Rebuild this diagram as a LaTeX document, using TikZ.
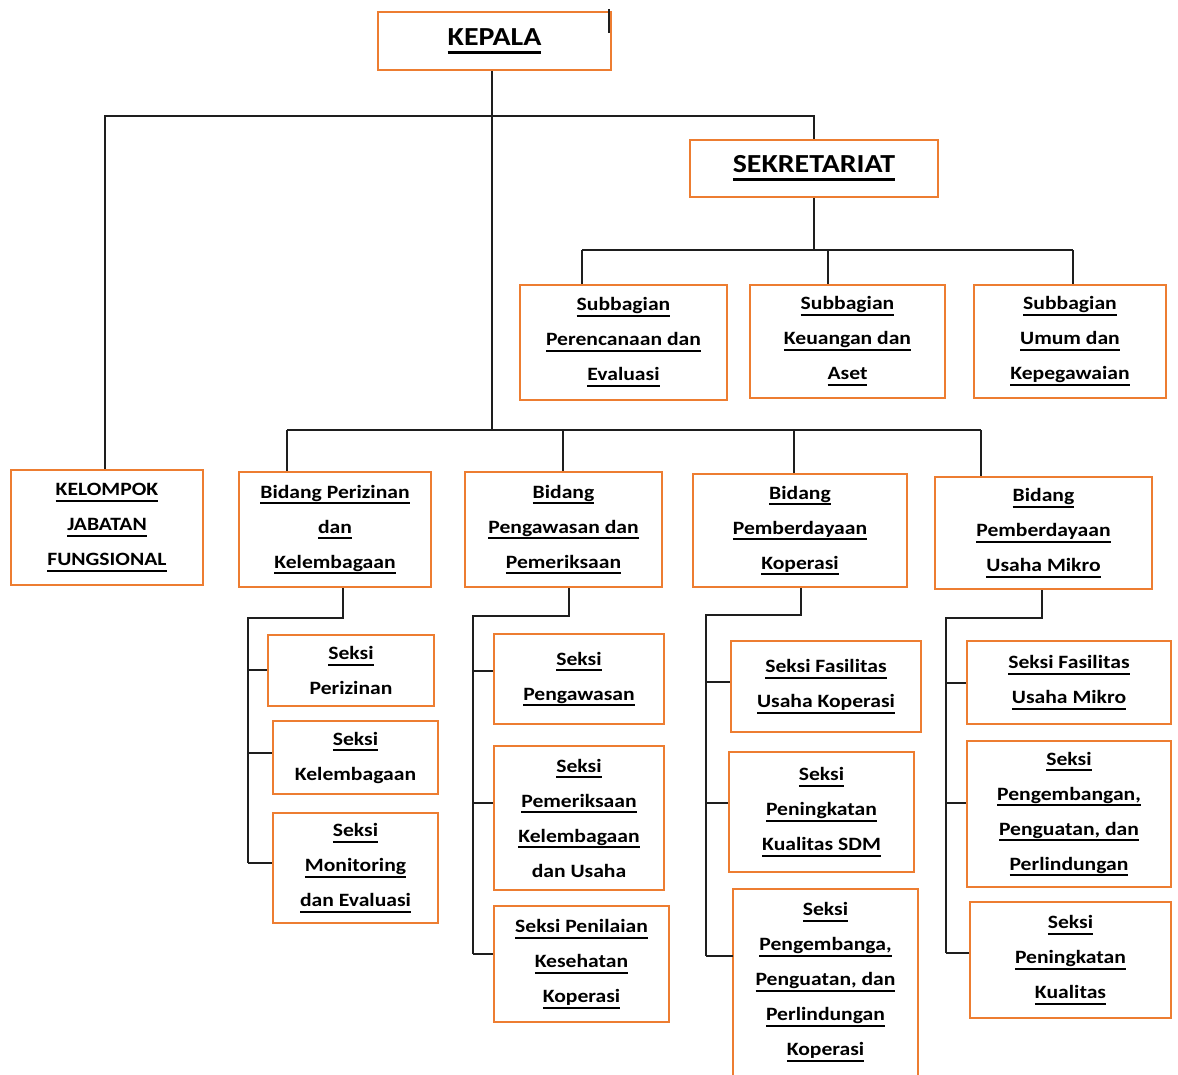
\documentclass[tikz,border=0pt]{standalone}
\usepackage{fontspec}
\setmainfont{Carlito}[FakeStretch=1.15]
\definecolor{boxorange}{HTML}{ED7D31}
\definecolor{linegray}{HTML}{1E1E1E}
\newcommand\ul[1]{\setbox0\hbox{#1}\leavevmode\rlap{\rule[-0.33em]{\wd0}{0.11em}}\box0}
\tikzset{
  box/.style={draw=boxorange, line width=2pt, align=center, inner sep=0pt,
    font=\bfseries\fontsize{18.8pt}{35pt}\selectfont},
  bigbox/.style={box, font=\bfseries\fontsize{26pt}{30pt}\selectfont},
  conn/.style={draw=linegray, line width=2pt},
}
\newcommand\bx[6]{\node[box,minimum width=#4pt,minimum height=#5pt] (#1) at (#2,#3) {#6};}
\begin{document}
\begin{tikzpicture}[x=1pt,y=-1pt]
\useasboundingbox (0,0) rectangle (1178,1074);
\clip (0,0) rectangle (1178,1074);
% top level
\node[bigbox,minimum width=233pt,minimum height=58pt] (kepala) at (494.5,41) {\ul{KEPALA}};
\node[bigbox,minimum width=248pt,minimum height=57pt] (sek) at (814,168.5) {\ul{SEKRETARIAT}};
% subbagian
\bx{sb1}{623.5}{342}{207}{115}{\ul{Subbagian}\\\ul{Perencanaan dan}\\\ul{Evaluasi}}
\bx{sb2}{847.5}{341}{195}{113}{\ul{Subbagian}\\\ul{Keuangan dan}\\\ul{Aset}}
\bx{sb3}{1070}{341}{192}{113}{\ul{Subbagian}\\\ul{Umum dan}\\\ul{Kepegawaian}}
% bidang
\bx{kjf}{107}{527.5}{192}{115}{\ul{KELOMPOK}\\\ul{JABATAN}\\\ul{FUNGSIONAL}}
\bx{bp}{335}{529.5}{192}{115}{\ul{Bidang Perizinan}\\\ul{dan}\\\ul{Kelembagaan}}
\bx{bw}{563.5}{529.5}{197}{115}{\ul{Bidang}\\\ul{Pengawasan dan}\\\ul{Pemeriksaan}}
\bx{bk}{800}{530.5}{214}{113}{\ul{Bidang}\\\ul{Pemberdayaan}\\\ul{Koperasi}}
\bx{bu}{1043.5}{533}{217}{112}{\ul{Bidang}\\\ul{Pemberdayaan}\\\ul{Usaha Mikro}}
% seksi column 1
\bx{s11}{351}{670.5}{166}{71}{\ul{Seksi}\\Perizinan}
\bx{s12}{355.5}{757.5}{165}{73}{\ul{Seksi}\\Kelembagaan}
\bx{s13}{355.5}{868}{165}{110}{\ul{Seksi}\\\ul{Monitoring}\\\ul{dan Evaluasi}}
% column 2
\bx{s21}{579}{679}{170}{90}{\ul{Seksi}\\\ul{Pengawasan}}
\bx{s22}{579}{818}{170}{144}{\ul{Seksi}\\\ul{Pemeriksaan}\\\ul{Kelembagaan}\\dan Usaha}
\bx{s23}{581.5}{964}{175}{116}{\ul{Seksi Penilaian}\\\ul{Kesehatan}\\\ul{Koperasi}}
% column 3
\bx{s31}{826}{686.5}{190}{91}{\ul{Seksi Fasilitas}\\\ul{Usaha Koperasi}}
\bx{s32}{821.5}{812}{185}{120}{\ul{Seksi}\\\ul{Peningkatan}\\\ul{Kualitas SDM}}
\node[box,draw=none,minimum width=183pt,minimum height=184pt] (s33) at (825.5,982)
  {\ul{Seksi}\\\ul{Pengembanga,}\\\ul{Penguatan, dan}\\\ul{Perlindungan}\\\ul{Koperasi}};
\draw[draw=boxorange,line width=2pt] ([yshift=-12pt]s33.south west) |- (s33.north east) -- ([yshift=-12pt]s33.south east);
% column 4
\bx{s41}{1069}{682.5}{204}{83}{\ul{Seksi Fasilitas}\\\ul{Usaha Mikro}}
\bx{s42}{1069}{814}{204}{146}{\ul{Seksi}\\\ul{Pengembangan,}\\\ul{Penguatan, dan}\\\ul{Perlindungan}}
\bx{s43}{1070.5}{960}{201}{116}{\ul{Seksi}\\\ul{Peningkatan}\\\ul{Kualitas}}

% ---- connectors ----
\draw[conn] ([xshift=-3pt,yshift=2pt]kepala.north east) -- ++(0,24);
\coordinate (ht) at (105,116);
\draw[conn] (kjf.north -| ht) -- (ht) -| (sek.north);
\coordinate (hb1) at (287,430);
\coordinate (hb2) at (563,430);
\coordinate (hb3) at (794,430);
\coordinate (hb4) at (981,430);
\draw[conn] ([xshift=-3pt]kepala.south) -- ([xshift=-3pt]kepala.south |- hb1);
\draw[conn] (hb1) -- (hb4);
\draw[conn] (hb1) -- (hb1 |- bp.north);
\draw[conn] (hb2) -- (hb2 |- bw.north);
\draw[conn] (hb3) -- (hb3 |- bk.north);
\draw[conn] (hb4) -- (hb4 |- bu.north);
% sekretariat branches
\coordinate (hs1) at (582,250);
\coordinate (hs2) at (828,250);
\coordinate (hs3) at (1073,250);
\draw[conn] (sek.south) -- (sek.south |- hs1);
\draw[conn] (hs1) -- (hs3);
\draw[conn] (hs1) -- (hs1 |- sb1.north);
\draw[conn] (hs2) -- (hs2 |- sb2.north);
\draw[conn] (hs3) -- (hs3 |- sb3.north);
% column 1
\coordinate (c1a) at (343,618);
\coordinate (c1b) at (248,618);
\coordinate (t11) at (248,670);
\coordinate (t12) at (248,753);
\coordinate (t13) at (248,863);
\draw[conn] (bp.south -| c1a) -- (c1a) -- (c1b) -- (t13);
\draw[conn] (t11) -- (t11 -| s11.west);
\draw[conn] (t12) -- (t12 -| s12.west);
\draw[conn] (t13) -- (t13 -| s13.west);
% column 2
\coordinate (c2a) at (569,616);
\coordinate (c2b) at (473,616);
\coordinate (t21) at (473,671);
\coordinate (t22) at (473,803);
\coordinate (t23) at (473,954);
\draw[conn] (bw.south -| c2a) -- (c2a) -- (c2b) -- (t23);
\draw[conn] (t21) -- (t21 -| s21.west);
\draw[conn] (t22) -- (t22 -| s22.west);
\draw[conn] (t23) -- (t23 -| s23.west);
% column 3
\coordinate (c3a) at (801,615);
\coordinate (c3b) at (706,615);
\coordinate (t31) at (706,682);
\coordinate (t32) at (706,803);
\coordinate (t33) at (706,956);
\draw[conn] (bk.south -| c3a) -- (c3a) -- (c3b) -- (t33);
\draw[conn] (t31) -- (t31 -| s31.west);
\draw[conn] (t32) -- (t32 -| s32.west);
\draw[conn] (t33) -- (t33 -| s33.west);
% column 4
\coordinate (c4a) at (1042,618);
\coordinate (c4b) at (946,618);
\coordinate (t41) at (946,683);
\coordinate (t42) at (946,803);
\coordinate (t43) at (946,953);
\draw[conn] (bu.south -| c4a) -- (c4a) -- (c4b) -- (t43);
\draw[conn] (t41) -- (t41 -| s41.west);
\draw[conn] (t42) -- (t42 -| s42.west);
\draw[conn] (t43) -- (t43 -| s43.west);
\end{tikzpicture}
\end{document}
